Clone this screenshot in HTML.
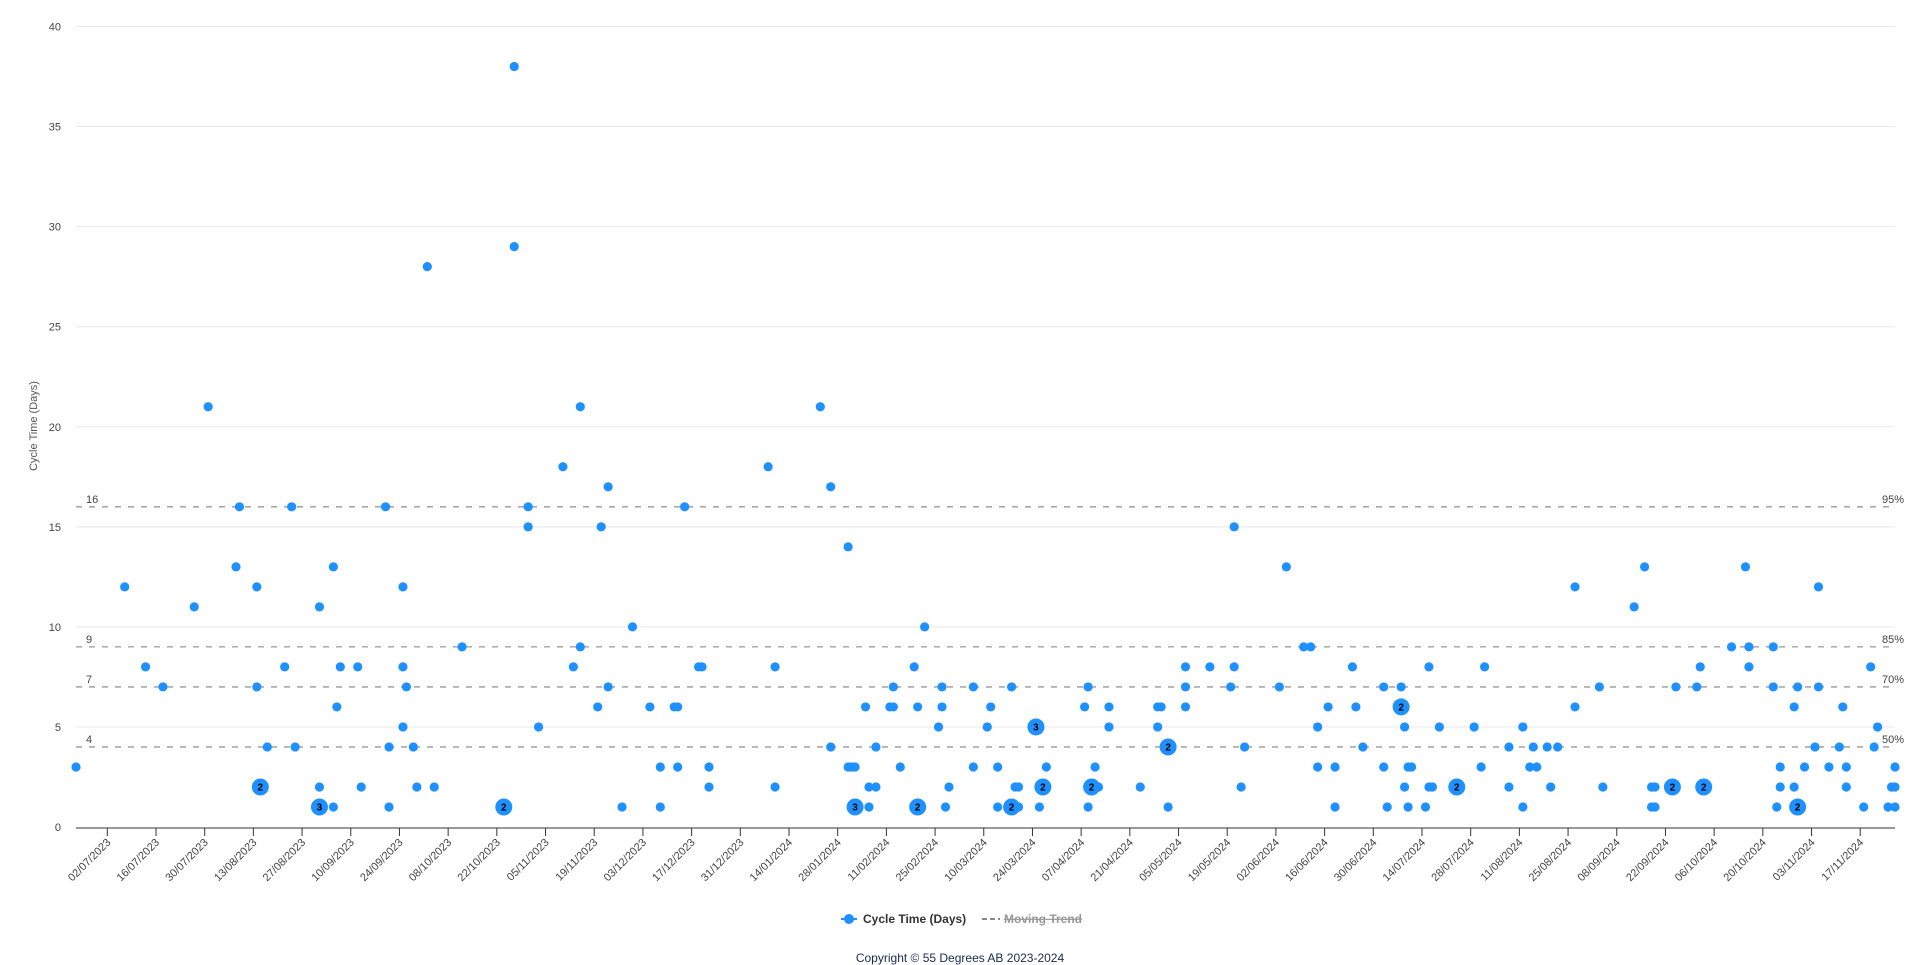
<!DOCTYPE html>
<html><head><meta charset="utf-8"><style>
html,body{margin:0;padding:0;background:#fff;}
svg{display:block;font-family:"Liberation Sans",Arial,sans-serif;}
</style></head><body>
<svg id="chart" width="1921" height="965" viewBox="0 0 1921 965" xmlns="http://www.w3.org/2000/svg">
<g id="grid"></g>
<g id="yticks"></g>
<g id="pct"></g>
<g id="xaxis"></g>
<g id="points"></g>
<text transform="translate(37,426) rotate(-90)" text-anchor="middle" font-size="11" fill="#555">Cycle Time (Days)</text>
<g>
  <g>
    <line x1="841" y1="919" x2="857" y2="919" stroke="#1e90ff" stroke-width="2"/>
    <circle cx="849" cy="919" r="5" fill="#1e90ff"/>
    <text x="863" y="923" font-size="12" font-weight="bold" fill="#333">Cycle Time (Days)</text>
  </g>
  <g>
    <line x1="982" y1="919" x2="1000" y2="919" stroke="#888" stroke-width="2" stroke-dasharray="5,3"/>
    <text x="1004" y="923" font-size="12" font-weight="bold" fill="#999" text-decoration="line-through">Moving Trend</text>
  </g>
</g>
<text x="960" y="962" text-anchor="middle" font-size="12" fill="#1a2a4a">Copyright © 55 Degrees AB 2023-2024</text>
</svg>
<script>
// days since 23/06/2023
const dayOffsets = [
0,14,20,25,34,38,46,47,52,52,
53,55,60,62,63,70,70,70,74,74,
75,76,81,82,89,90,90,94,94,94,
95,97,98,101,103,111,123,126,126,130,
130,133,140,143,145,145,150,151,153,153,
157,160,165,168,168,172,173,173,175,179,
180,182,182,199,201,201,214,217,217,222,
222,223,224,224,227,228,228,230,230,234,
235,235,237,241,242,242,244,248,249,249,
250,251,258,258,262,263,265,265,269,269,
270,271,271,276,277,278,279,290,291,291,
292,293,294,297,297,306,311,311,312,314,
314,319,319,319,326,332,333,333,335,336,
346,348,353,355,357,357,360,362,362,367,
368,370,376,376,377,381,381,382,382,383,
383,384,388,389,389,390,392,397,402,404,
405,412,412,416,416,418,419,420,423,424,
426,431,431,438,439,448,451,453,453,454,
454,459,460,466,467,468,476,480,481,481,
488,488,489,490,490,494,494,495,495,497,
500,501,501,504,507,508,509,509,514,516,
517,518,521,522,523,523,523];
const cycleDays = [
3,12,8,7,11,21,13,16,12,7,
2,4,8,16,4,11,2,1,13,1,
6,8,8,2,16,4,1,12,8,5,
7,4,2,28,2,9,1,38,29,16,
15,5,18,8,21,9,6,15,17,7,
1,10,6,3,1,6,6,3,16,8,
8,3,2,18,8,2,21,17,4,3,
14,3,1,3,6,2,1,4,2,6,
6,7,3,8,1,6,10,5,7,6,
1,2,7,3,5,6,3,1,1,7,
2,2,1,5,1,2,3,6,7,1,
2,3,2,6,5,2,6,5,6,4,
1,8,7,6,8,7,15,8,2,4,
7,13,9,9,5,3,6,3,1,8,
6,4,7,3,1,7,6,5,2,3,
1,3,1,8,2,2,5,2,5,3,
8,4,2,5,1,3,4,3,4,2,
4,12,6,7,2,11,13,2,1,2,
1,2,7,7,8,2,9,13,9,8,
9,7,1,3,2,6,2,1,7,3,
4,12,7,3,4,6,3,2,1,8,
4,5,1,2,3,2,1];
const itemCounts = [
1,1,1,1,1,1,1,1,1,1,
2,1,1,1,1,1,1,3,1,1,
1,1,1,1,1,1,1,1,1,1,
1,1,1,1,1,1,2,1,1,1,
1,1,1,1,1,1,1,1,1,1,
1,1,1,1,1,1,1,1,1,1,
1,1,1,1,1,1,1,1,1,1,
1,1,3,1,1,1,1,1,1,1,
1,1,1,1,2,1,1,1,1,1,
1,1,1,1,1,1,1,1,2,1,
1,1,1,3,1,2,1,1,1,1,
2,1,1,1,1,1,1,1,1,2,
1,1,1,1,1,1,1,1,1,1,
1,1,1,1,1,1,1,1,1,1,
1,1,1,1,1,1,2,1,1,1,
1,1,1,1,1,1,1,2,1,1,
1,1,1,1,1,1,1,1,1,1,
1,1,1,1,1,1,1,1,1,1,
1,2,1,1,1,2,1,1,1,1,
1,1,1,1,1,1,1,2,1,1,
1,1,1,1,1,1,1,1,1,1,
1,1,1,1,1,1,1];
const yTicks = [0,5,10,15,20,25,30,35,40];
const xTickDays = [9,23,37,51,65,79,93,107,121,135,149,163,177,191,205,219,233,247,261,275,289,303,317,331,345,359,373,387,401,415,429,443,457,471,485,499,513];
const xTickLabels = ["02/07/2023","16/07/2023","30/07/2023","13/08/2023","27/08/2023","10/09/2023","24/09/2023","08/10/2023","22/10/2023","05/11/2023","19/11/2023","03/12/2023","17/12/2023","31/12/2023","14/01/2024","28/01/2024","11/02/2024","25/02/2024","10/03/2024","24/03/2024","07/04/2024","21/04/2024","05/05/2024","19/05/2024","02/06/2024","16/06/2024","30/06/2024","14/07/2024","28/07/2024","11/08/2024","25/08/2024","08/09/2024","22/09/2024","06/10/2024","20/10/2024","03/11/2024","17/11/2024"];
const pctValues = [16,9,7,4];
const pctLabels = ["95%","85%","70%","50%"];

const NS="http://www.w3.org/2000/svg";
const L=76,R=1895,T=26.5,B=827,XMAX=523,YMAX=40;
const xs=d=>L+(R-L)*d/XMAX;
const ys=v=>B-(B-T)*v/YMAX;
function mk(tag,attrs,parent){const e=document.createElementNS(NS,tag);for(const k in attrs)e.setAttribute(k,attrs[k]);parent.appendChild(e);return e;}
const grid=document.getElementById('grid'),yt=document.getElementById('yticks'),pct=document.getElementById('pct'),xa=document.getElementById('xaxis'),pts=document.getElementById('points');

yTicks.forEach(v=>{
  if(v>0){const g=mk('line',{x1:L,x2:R,y1:ys(v),y2:ys(v),stroke:'#e8e8e8','stroke-width':1},grid);
  
  }
  const t=mk('text',{x:61,y:ys(v)+4,'text-anchor':'end','font-size':11,fill:'#444'},yt);
  
  
  t.textContent=v;
});
pctValues.forEach((v,i)=>{
  const l=mk('line',{x1:L,x2:R,y1:ys(v),y2:ys(v),stroke:'#999','stroke-width':1.3,'stroke-dasharray':'6,7'},pct);
  
  
  const a=mk('text',{x:86,y:ys(v)-4,'font-size':11,fill:'#444'},pct);
  
  
  a.textContent=v;
  const b=mk('text',{x:1882,y:ys(v)-4,'font-size':11,fill:'#444'},pct);
  
  
  b.textContent=pctLabels[i];
});
const ax=mk('line',{x1:L,x2:R,y1:B+1,y2:B+1,stroke:'#333','stroke-width':1},xa);


xTickDays.forEach((d,i)=>{
  const x=xs(d);
  const tk=mk('line',{x1:x,x2:x,y1:B+1,y2:B+9,stroke:'#333','stroke-width':1},xa);
  
  
  const t=mk('text',{transform:`translate(${x+4},${B+16}) rotate(-45)`,'text-anchor':'end','font-size':11,fill:'#444'},xa);
  
  
  t.textContent=xTickLabels[i];
});
dayOffsets.forEach((d,i)=>{
  const c=itemCounts[i];
  const cx=xs(d),cy=ys(cycleDays[i]);
  const p=mk('circle',{cx:cx,cy:cy,r:c>1?8.5:4.6,fill:'#1e90ff'},pts);
  
  
  if(c>1){
    const t=mk('text',{x:cx,y:cy+3.5,'text-anchor':'middle','font-size':10,'font-weight':'bold',fill:'#000'},pts);
    
    
    t.textContent=c;
  }
});
</script>
</body></html>
